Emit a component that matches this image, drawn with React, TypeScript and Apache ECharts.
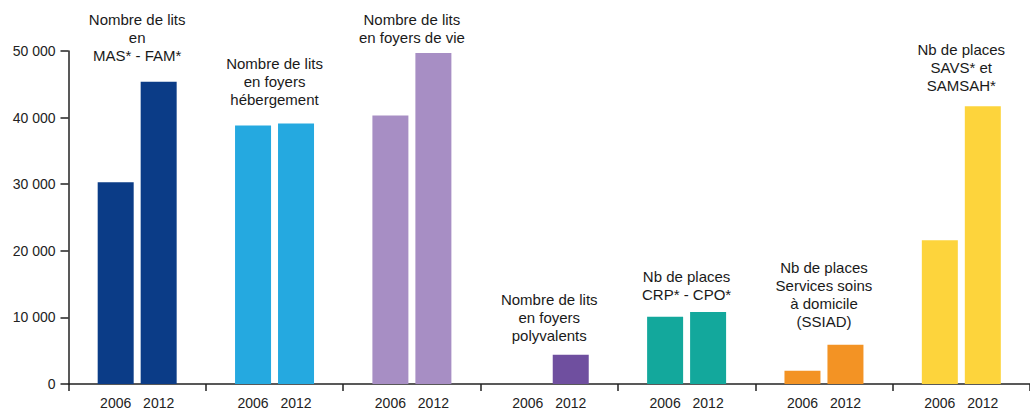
import React, { useEffect, useRef } from "react";
import * as echarts from "echarts";

const categories = [
  "MAS-FAM",
  "Foyers hébergement",
  "Foyers de vie",
  "Foyers polyvalents",
  "CRP-CPO",
  "SSIAD",
  "SAVS-SAMSAH",
];
const years = ["2006", "2012"];
const values2006 = [30300, 38800, 40300, null, 10100, 2000, 21600];
const values2012 = [45400, 39100, 49700, 4400, 10800, 5900, 41700];
const annotations = [
  "Nombre de lits\nen\nMAS* - FAM*",
  "Nombre de lits\nen foyers\nhébergement",
  "Nombre de lits\nen foyers de vie",
  "Nombre de lits\nen foyers\npolyvalents",
  "Nb de places\nCRP* - CPO*",
  "Nb de places\nServices soins\nà domicile\n(SSIAD)",
  "Nb de places\nSAVS* et\nSAMSAH*",
];
const groupColors = ["#0b3c87", "#25a9e0", "#a78ec4", "#6f4f9f", "#13a89c", "#f39324", "#fdd43c"];
const yTicks = [0, 10000, 20000, 30000, 40000, 50000];

const FONT = "Liberation Sans";
const labelGaps = [17, 15, 6, 10, 9, 14, 12];

function fmt(v: number) {
  return String(v).replace(/\B(?=(\d{3})+(?!\d))/g, " ");
}

export default function App() {
  const ref = useRef<HTMLDivElement>(null);
  useEffect(() => {
    if (!ref.current) return;
    const chart = echarts.init(ref.current, null, { renderer: "svg" });
    const option: any = {
      animation: false,
      textStyle: { fontFamily: FONT },
      grid: { left: 68.5, top: 51, width: 967, height: 333, containLabel: false },
      xAxis: {
        type: "category",
        data: categories,
        axisLine: { lineStyle: { color: "#222", width: 1.5 } },
        axisTick: { show: true, length: 7, lineStyle: { color: "#222", width: 1.5 } },
        axisLabel: {
          margin: 12,
          formatter: () => years.map((y) => `{y|${y}}`).join(""),
          rich: {
            y: { width: 43, align: "center", fontSize: 14, color: "#222", fontFamily: FONT },
          },
        },
      },
      yAxis: {
        type: "value",
        min: yTicks[0],
        max: yTicks[yTicks.length - 1],
        interval: yTicks[1] - yTicks[0],
        splitLine: { show: false },
        axisLine: { show: true, lineStyle: { color: "#222", width: 1.5 } },
        axisTick: { show: true, length: 8, lineStyle: { color: "#222", width: 1.5 } },
        axisLabel: { margin: 13, fontSize: 14, color: "#222", fontFamily: FONT, formatter: (v: number) => fmt(v) },
      },
      series: [
        {
          name: years[0],
          type: "bar",
          barWidth: 36,
          barGap: "19.4%",
          data: values2006.map((v, i) => ({ value: v, itemStyle: { color: groupColors[i] } })),
        },
        {
          name: years[1],
          type: "bar",
          barWidth: 36,
          barGap: "19.4%",
          data: values2012.map((v, i) => ({
            value: v,
            itemStyle: { color: groupColors[i] },
            label: {
              show: true,
              position: "top",
              distance: labelGaps[i],
              offset: [-21.5, 0],
              formatter: annotations[i],
              align: "center",
              lineHeight: 18,
              fontSize: 15,
              color: "#1a1a1a",
              fontFamily: FONT,
            },
          })),
        },
      ],
    };
    chart.setOption(option);
    return () => chart.dispose();
  }, []);
  return (
    <div
      ref={ref}
      style={{ position: "fixed", left: 0, top: 0, width: 1030, height: 410, background: "#fff" }}
    />
  );
}
